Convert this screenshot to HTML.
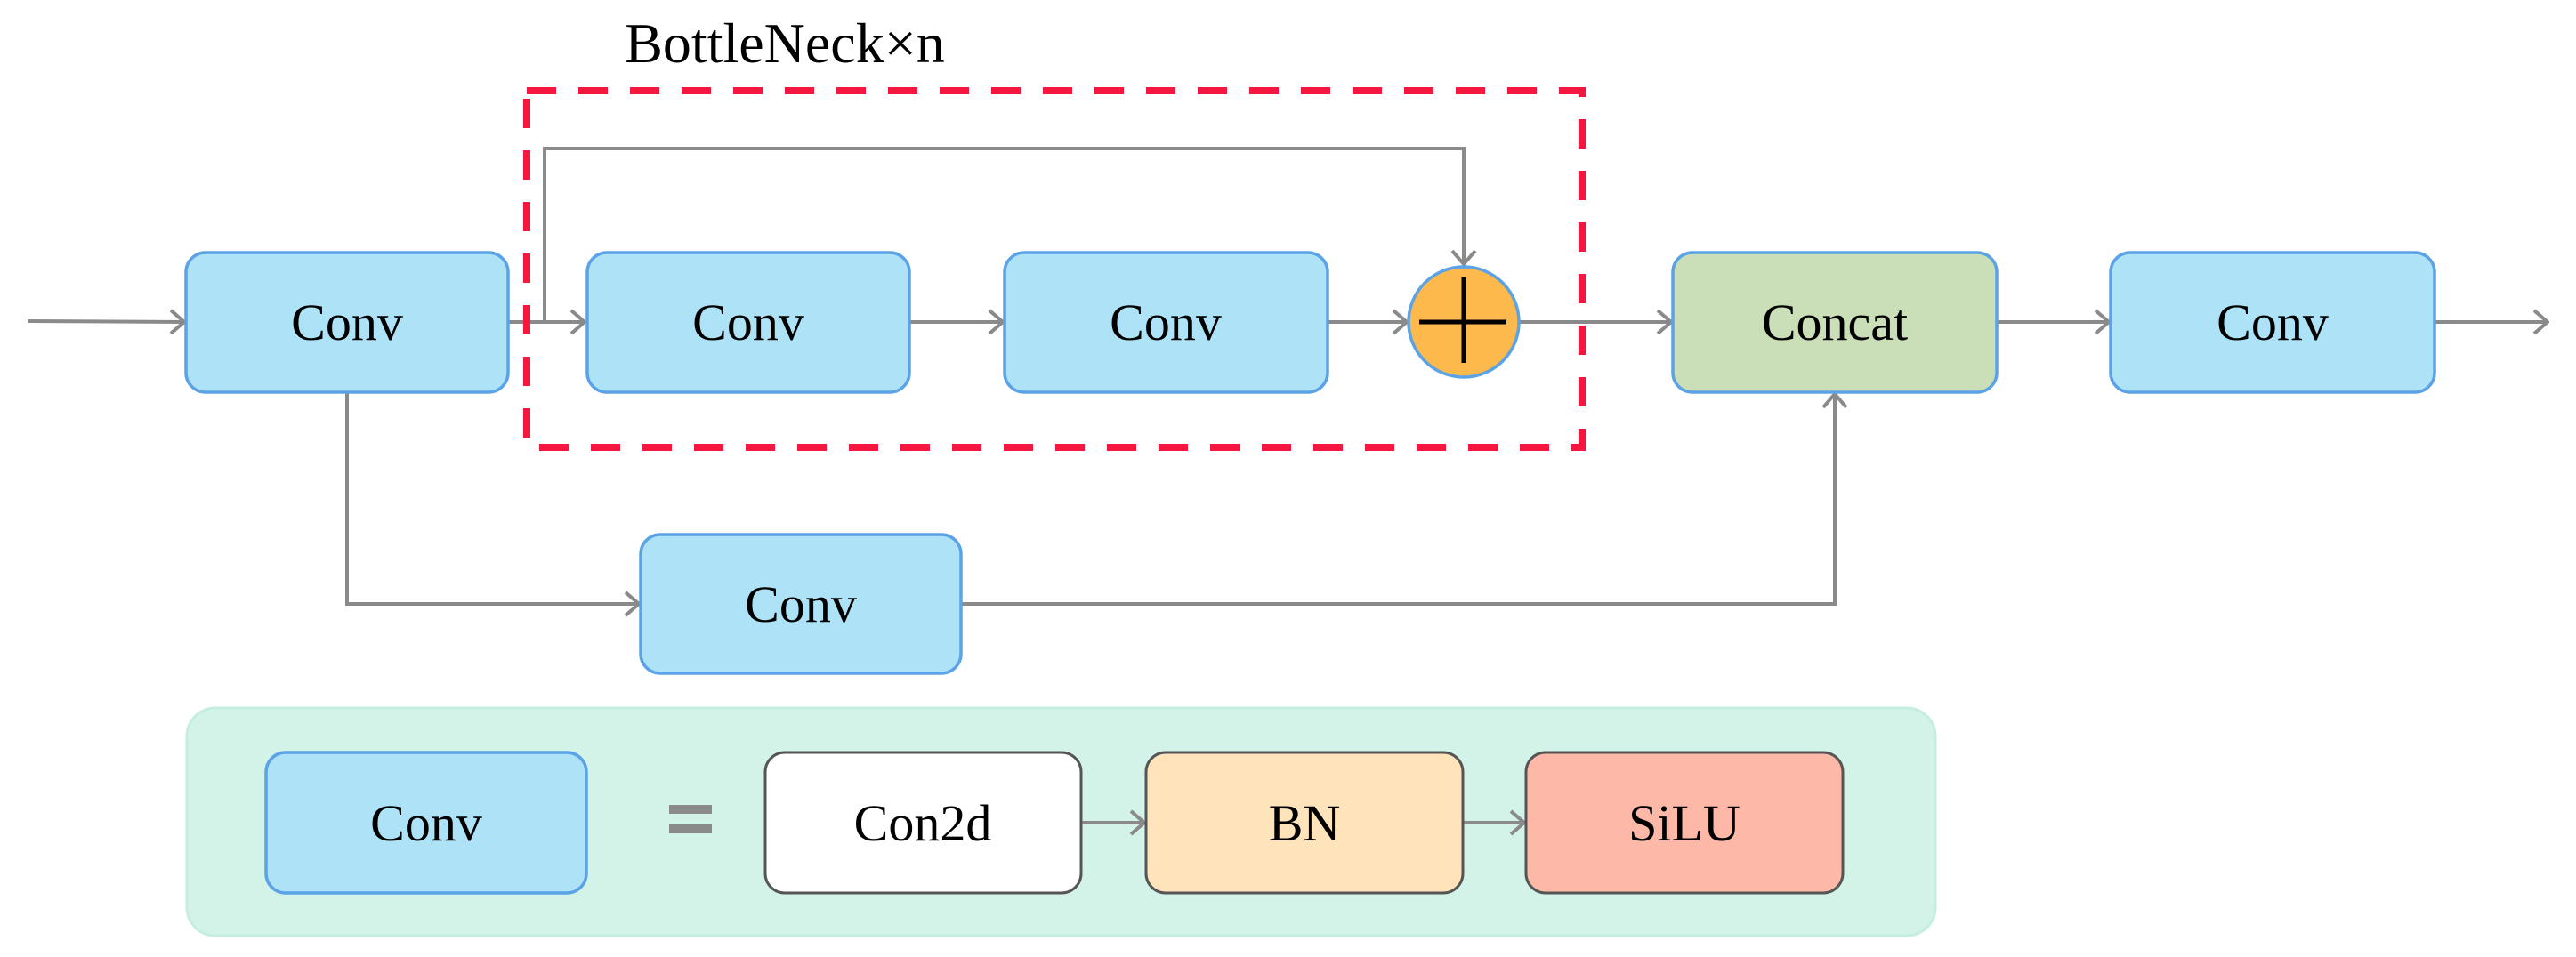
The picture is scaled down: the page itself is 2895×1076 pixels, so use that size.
<!DOCTYPE html>
<html><head><meta charset="utf-8"><style>
html,body{margin:0;padding:0;background:#fff;}
svg{display:block;}
text{font-family:"Liberation Serif",serif;fill:#000;}
</style></head><body>
<svg width="2895" height="1076" viewBox="0 0 2895 1076" xmlns="http://www.w3.org/2000/svg">
<defs>
<marker id="a" markerWidth="20" markerHeight="30" refX="18" refY="15" orient="auto" markerUnits="userSpaceOnUse">
<path d="M3,2 L18,15 L3,28" fill="none" stroke="#8a8a8a" stroke-width="4"/>
</marker>
</defs>
<g fill="none" stroke="#8a8a8a" stroke-width="4">
<path d="M31,361 L207,362" marker-end="url(#a)"/>
<path d="M572,362 L657,362" marker-end="url(#a)"/>
<path d="M612,362 L612,167 L1645,167 L1645,297" marker-end="url(#a)"/>
<path d="M1022,362 L1127,362" marker-end="url(#a)"/>
<path d="M1492,362 L1581,362" marker-end="url(#a)"/>
<path d="M1707,362 L1878,362" marker-end="url(#a)"/>
<path d="M2244,362 L2370,362" marker-end="url(#a)"/>
<path d="M2736,362 L2863,362" marker-end="url(#a)"/>
<path d="M390,441 L390,679 L718,679" marker-end="url(#a)"/>
<path d="M1080,679 L2062,679 L2062,443" marker-end="url(#a)"/>
</g>
<rect x="592" y="102" width="1186" height="401" fill="none" stroke="#f5173f" stroke-width="8" stroke-dasharray="33,25"/>
<text x="882" y="70" font-size="64" text-anchor="middle">BottleNeck×n</text>
<g stroke="#5ba3e6" stroke-width="3.5">
<rect x="209" y="284" width="362" height="157" rx="22" fill="#aee3f7"/>
<rect x="660" y="284" width="362" height="157" rx="22" fill="#aee3f7"/>
<rect x="1129" y="284" width="363" height="157" rx="22" fill="#aee3f7"/>
<rect x="1880" y="284" width="364" height="157" rx="22" fill="#cadeb7"/>
<rect x="2372" y="284" width="364" height="157" rx="22" fill="#aee3f7"/>
<rect x="720" y="601" width="360" height="156" rx="22" fill="#aee3f7"/>
<circle cx="1645" cy="362" r="62" fill="#fdb94b"/>
</g>
<g stroke="#000" stroke-width="5">
<line x1="1595" y1="362" x2="1693" y2="362"/>
<line x1="1645" y1="312" x2="1645" y2="408"/>
</g>
<g font-size="58" text-anchor="middle">
<text x="390" y="382">Conv</text>
<text x="841" y="382">Conv</text>
<text x="1310" y="382">Conv</text>
<text x="2062" y="382">Concat</text>
<text x="2554" y="382">Conv</text>
<text x="900" y="699">Conv</text>
</g>
<rect x="210" y="796" width="1965" height="256" rx="32" fill="#d4f3e8" stroke="#c4eedd" stroke-width="3"/>
<g fill="none" stroke="#8a8a8a" stroke-width="4">
<path d="M1215,925 L1286,925" marker-end="url(#a)"/>
<path d="M1644,925 L1713,925" marker-end="url(#a)"/>
</g>
<rect x="299" y="846" width="360" height="158" rx="22" fill="#aee3f7" stroke="#5ba3e6" stroke-width="3.5"/>
<rect x="860" y="846" width="355" height="158" rx="22" fill="#ffffff" stroke="#555" stroke-width="3"/>
<rect x="1288" y="846" width="356" height="158" rx="22" fill="#ffe4bb" stroke="#555" stroke-width="3"/>
<rect x="1715" y="846" width="356" height="158" rx="22" fill="#fdb8a8" stroke="#555" stroke-width="3"/>
<rect x="752" y="905" width="48" height="10" fill="#8a8a8a"/>
<rect x="752" y="927" width="48" height="10" fill="#8a8a8a"/>
<g font-size="58" text-anchor="middle">
<text x="479" y="945">Conv</text>
<text x="1037" y="945">Con2d</text>
<text x="1466" y="945">BN</text>
<text x="1893" y="945">SiLU</text>
</g>
</svg>
</body></html>
